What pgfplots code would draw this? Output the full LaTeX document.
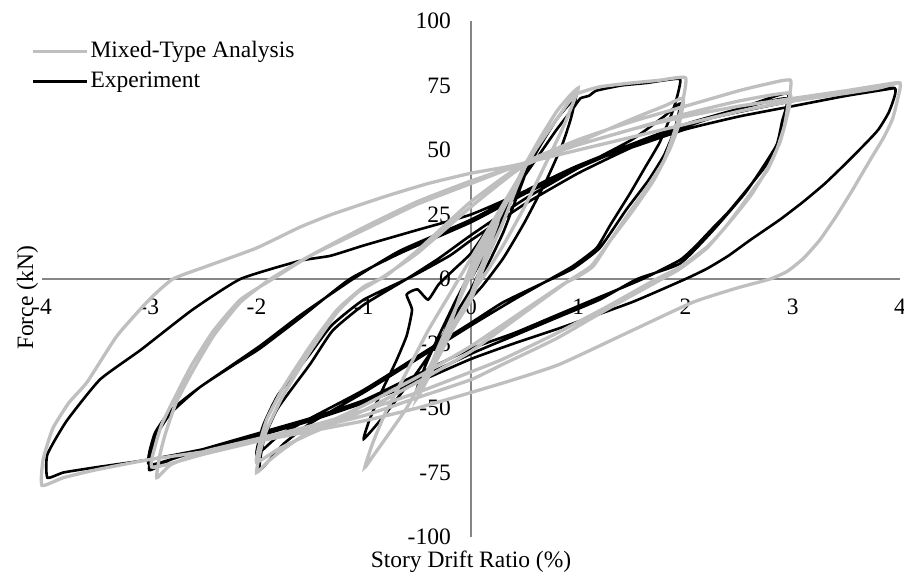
\documentclass[border=0pt]{standalone}
\usepackage{pgfplots}
\pgfplotsset{compat=1.18}
\usepackage{fontspec}
\setmainfont{Liberation Serif}
\definecolor{anagray}{RGB}{191,191,191}
\definecolor{axgray}{RGB}{134,134,134}

\begin{document}
\fontsize{23.5bp}{28bp}\selectfont
\begin{tikzpicture}
\useasboundingbox (-42bp,-36bp) rectangle (862bp,537bp);
\begin{axis}[
  at={(0,0)}, anchor=south west,
  scale only axis,
  width=858bp, height=516bp,
  xmin=-4, xmax=4, ymin=-100, ymax=100,
  axis lines=middle,
  axis line style={-, draw=axgray, line width=1.3bp},
  xtick={-4,-3,-2,-1,0,1,2,3,4},
  xticklabels={-4,-3,-2,-1,0,1,2,3,4},
  ytick={-100,-75,-50,-25,0,25,50,75,100},
  yticklabels={-100,-75,-50,-25,0,25,50,75,100},
  hide obscured x ticks=false,
  hide obscured y ticks=false,
  major tick length=0pt,
  xticklabel style={anchor=north, inner sep=0pt, yshift=-20bp},
  yticklabel style={anchor=east, inner sep=0pt, xshift=-20bp},
  clip=false,
  reverse legend,
  legend style={draw=none, fill=none, at={(-0.0128,0.965)}, anchor=north west,
    inner xsep=0pt, inner ysep=0pt, row sep=7bp,
    nodes={inner sep=2bp}},
  legend cell align=left,
  legend image code/.code={\draw[#1] (0bp,0bp) -- (54bp,0bp);},
]
% Experiment
\addplot[black, line width=2.6bp, smooth, tension=0.3] coordinates {
(0,0) (0.12,9) (0.25,19) (0.17,10) (0.07,2) (0,-4) (-0.12,-12) (-0.25,-21) (-0.17,-12) (-0.07,-3) (0,3) (0.12,11) (0.25,20) (0.38,31) (0.5,40)
(0.42,31) (0.3,18) (0.15,5) (0,-6) (-0.15,-16) (-0.3,-28) (-0.42,-37) (-0.5,-42) (-0.42,-33) (-0.3,-22) (-0.15,-9) (0,3) (0.15,14) (0.3,26) (0.42,35) (0.5,41)
(0.65,52) (0.8,62) (0.92,68) (0.98,71)
(0.93,62) (0.85,52) (0.7,38) (0.5,22) (0.3,8) (0.1,-3) (-0.1,-12) (-0.3,-24) (-0.5,-36) (-0.7,-47) (-0.85,-55) (-1.0,-62)
(-0.95,-55) (-0.85,-45) (-0.7,-32) (-0.6,-22) (-0.55,-12) (-0.6,-6) (-0.5,-4) (-0.4,-8) (-0.3,-2) (-0.15,4) (0,10) (0.2,22) (0.4,34) (0.6,46) (0.8,58) (0.95,66) (1.02,70)
(1.1,71) (1.17,73) (1.4,75) (1.64,76) (1.8,77) (1.95,77.5)
(1.93,72) (1.88,65) (1.76,53) (1.62,43) (1.48,33) (1.3,21) (1.17,12) (0.95,5) (0.74,0) (0.4,-8) (0,-18) (-0.5,-31) (-1,-44) (-1.5,-56) (-1.75,-64) (-1.97,-74)
(-1.93,-62) (-1.8,-50) (-1.5,-33) (-1.29,-20) (-1.0,-10) (-0.6,0) (-0.3,8) (0,17) (0.5,31) (1,43) (1.5,54) (1.8,63) (1.95,68)
(1.9,58) (1.8,48) (1.65,38) (1.45,27) (1.2,12) (0.95,4) (0.7,-1) (0.3,-9) (0,-17) (-0.5,-30) (-1,-43) (-1.5,-54) (-1.8,-61) (-2,-68)
(-1.94,-57) (-1.8,-45) (-1.5,-29) (-1.3,-18) (-1.0,-8) (-0.55,1) (-0.2,9) (0,15) (0.5,29) (1,41) (1.5,51) (2,59) (2.5,66) (2.95,72)
(2.92,62) (2.88,53) (2.75,44) (2.57,34.5) (2.4,26) (2.26,20) (2.1,13) (1.95,7.4) (1.6,0) (1.2,-7) (0.8,-14) (0.4,-21) (0,-27) (-0.5,-37) (-1,-47) (-1.5,-54) (-2,-60) (-2.5,-66) (-2.8,-70) (-3,-74)
(-2.95,-62) (-2.8,-52) (-2.53,-42) (-2.2,-33) (-1.97,-27) (-1.59,-15) (-1.13,0) (-0.66,10) (0,22) (0.5,33) (1,43) (1.5,52) (2,60) (2.5,66) (2.94,70)
(2.9,61) (2.85,52) (2.7,42) (2.55,33) (2.26,19) (1.95,6) (1.55,0) (1.2,-8) (0.8,-15) (0.4,-22) (0,-29) (-1,-48) (-2,-61) (-2.5,-66) (-3,-72)
(-2.95,-60) (-2.8,-51) (-2.53,-42) (-1.97,-26) (-1.59,-14) (-1.1,0) (-0.66,11) (0,23) (0.5,34) (1,44) (2,60) (3,69) (3.5,72) (3.95,74)
(3.9,65) (3.8,58) (3.69,53) (3.5,45) (3.3,37) (3.1,30) (2.88,23) (2.6,15) (2.4,9) (2.2,4) (2.0,0) (1.5,-9) (0.83,-19) (0.4,-25) (0,-31) (-0.5,-40) (-1,-48) (-1.5,-55) (-2,-61) (-2.5,-66) (-3,-70) (-3.5,-73) (-3.8,-75) (-3.95,-77)
(-3.95,-68) (-3.77,-55) (-3.46,-39) (-3.08,-27.5) (-2.6,-12) (-2.15,0) (-1.6,7) (-1.31,9) (-1,13) (-0.5,19) (0,25) (0.5,34) (1,44) (1.5,51) (2,58) (2.5,63) (3,67) (3.5,71) (3.95,74)
};
\addlegendentry{Experiment}
% Mixed-type analysis
\addplot[anagray, line width=3.3bp, smooth, tension=0.3] coordinates {
(0,0) (0.12,11) (0.25,22) (0.18,14) (0.08,3) (0,-6) (-0.12,-15) (-0.25,-25) (-0.18,-16) (-0.08,-4) (0,5) (0.12,14) (0.25,24) (0.38,34) (0.5,43)
(0.42,35) (0.3,22) (0.15,8) (0,-8) (-0.15,-18) (-0.3,-30) (-0.42,-40) (-0.5,-46) (-0.42,-38) (-0.3,-26) (-0.15,-12) (0,2) (0.15,14) (0.3,27) (0.42,37) (0.5,44)
(0.65,55) (0.8,65) (0.92,71) (1.0,74)
(0.95,68) (0.85,58) (0.7,45) (0.5,28) (0.3,13) (0.15,3) (0,-6) (-0.2,-20) (-0.4,-35) (-0.6,-50) (-0.8,-62) (-0.92,-69) (-0.99,-73)
(-0.92,-64) (-0.8,-52) (-0.6,-36) (-0.4,-20) (-0.2,-6) (0,8) (0.2,22) (0.4,36) (0.6,50) (0.8,62) (0.92,69) (1.0,72)
(1.2,74.5) (1.5,76) (1.75,77) (2.0,78)
(1.97,68) (1.92,60) (1.8,46) (1.65,36) (1.48,26) (1.3,15) (1.14,5) (1.0,1) (0.86,-2) (0.5,-12) (0,-26) (-0.5,-38) (-1,-49) (-1.5,-59) (-1.75,-66) (-1.9,-71) (-2,-75)
(-1.96,-66) (-1.9,-58) (-1.75,-45) (-1.5,-28) (-1.25,-13) (-1.05,-5) (-0.85,0) (-0.5,10) (0,28) (0.3,38) (0.5,44) (1,53) (1.5,62) (1.8,67) (1.98,70)
(1.94,60) (1.85,50) (1.7,38) (1.5,26) (1.3,15) (1.12,5) (0.9,-1) (0.5,-13) (0,-28) (-0.5,-40) (-1,-51) (-1.5,-60) (-1.8,-66) (-2,-71)
(-1.96,-62) (-1.9,-54) (-1.75,-42) (-1.5,-26) (-1.25,-12) (-1.0,-3) (-0.8,1) (-0.5,11) (0,30) (0.5,45) (1,54) (1.5,61) (2,67) (2.5,73) (2.75,75.5) (2.98,77)
(2.95,66) (2.92,59) (2.85,50) (2.76,42) (2.62,34) (2.5,27) (2.35,19) (2.2,12.4) (1.95,4.6) (1.73,0) (1.3,-10) (0.8,-21) (0.3,-31) (0,-36) (-0.5,-44) (-1,-51) (-1.5,-57) (-2,-62) (-2.5,-67) (-2.8,-72) (-2.93,-77)
(-2.9,-68) (-2.85,-60) (-2.75,-48) (-2.6,-36) (-2.4,-22) (-2.15,-9) (-1.87,0) (-1.5,9) (-1,19) (-0.5,29) (0,37) (0.5,45) (1,52) (1.5,58) (2,64) (2.5,69) (2.97,72)
(2.94,62) (2.88,53) (2.78,44) (2.62,33) (2.45,24) (2.2,12) (1.95,4) (1.78,0) (1.3,-11) (0.8,-23) (0.3,-33) (0,-39) (-0.5,-46) (-1,-53) (-1.5,-58) (-2,-63) (-2.5,-68) (-2.97,-73)
(-2.94,-64) (-2.88,-56) (-2.75,-45) (-2.6,-33) (-2.4,-20) (-2.15,-8) (-1.85,0) (-1.5,9) (-1,20) (-0.5,30) (0,38) (0.5,45) (1,52) (1.5,58) (2,63) (2.5,67) (3,70) (3.5,73) (3.8,75) (4,76)
(3.98,70) (3.93,62) (3.85,55) (3.72,46) (3.55,34) (3.4,24) (3.25,15) (3.1,8) (2.95,3) (2.79,0) (2.48,-3.5) (2.07,-9) (1.5,-20) (0.83,-33) (0.4,-39) (0,-44) (-0.5,-50) (-1,-55) (-1.5,-59) (-2,-63) (-2.5,-67) (-3,-70) (-3.5,-74) (-3.8,-77) (-4,-80)
(-3.99,-70) (-3.9,-58) (-3.75,-48) (-3.58,-40) (-3.3,-22) (-3.0,-8) (-2.78,0) (-2.46,5) (-2,12) (-1.6,20) (-1.3,25) (-0.8,32) (-0.4,37) (0,41) (0.4,44) (1,50) (1.5,55) (2,60) (2.5,65) (3,69) (3.5,72) (3.8,74) (3.98,76)
};
\addlegendentry{Mixed-Type Analysis}
\end{axis}
\node[anchor=base] at (429bp,-30bp) {Story Drift Ratio (\%)};
\node[rotate=90, anchor=base] at (-9bp,239bp) {Force (kN)};
\end{tikzpicture}
\end{document}
